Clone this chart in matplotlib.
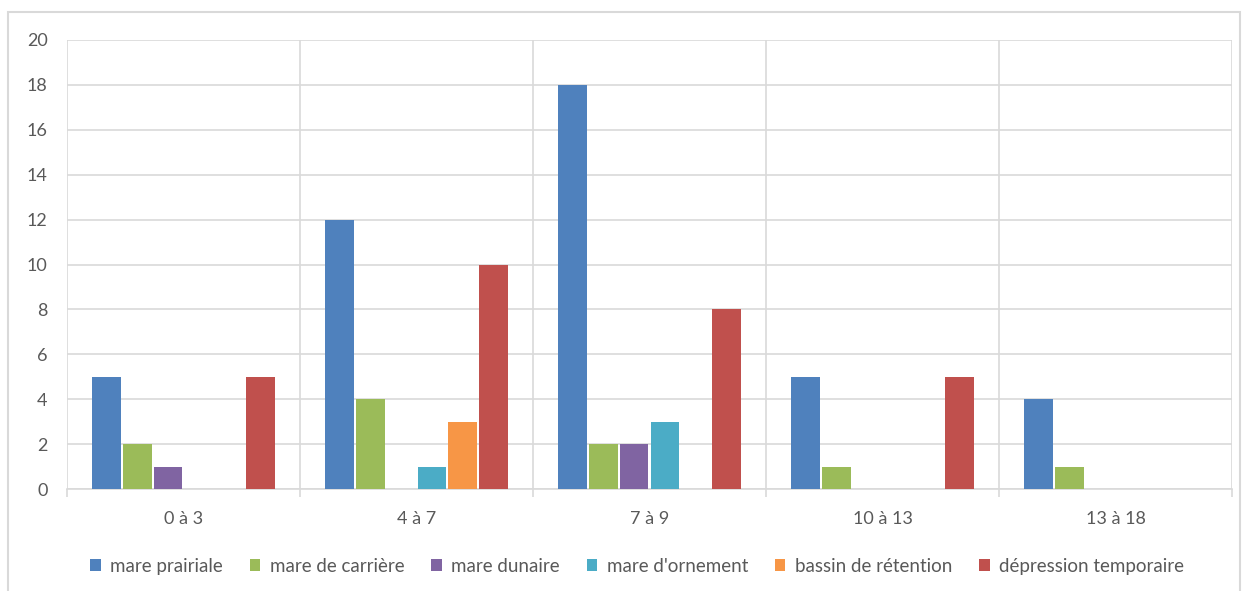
"""
Grouped bar chart: number of ponds per type, by class.
"""
import numpy as np
import matplotlib.pyplot as plt
from matplotlib.patches import Rectangle

categories = ["0 à 3", "4 à 7", "7 à 9", "10 à 13", "13 à 18"]
series_names = ["mare prairiale", "mare de carrière", "mare dunaire",
                "mare d'ornement", "bassin de rétention", "dépression temporaire"]
mare_prairiale = [5, 12, 18, 5, 4]
mare_carriere = [2, 4, 2, 1, 1]
mare_dunaire = [1, 0, 2, 0, 0]
mare_ornement = [0, 1, 3, 0, 0]
bassin_retention = [0, 3, 0, 0, 0]
depression_temporaire = [5, 10, 8, 5, 0]
y_ticks = list(range(0, 21, 2))

series = [mare_prairiale, mare_carriere, mare_dunaire,
          mare_ornement, bassin_retention, depression_temporaire]
colors = ["#4F81BD", "#9BBB59", "#8064A2", "#4BACC6", "#F79646", "#C0504D"]
text_color = "#595959"
grid_color = "#D9D9D9"

plt.rcParams["font.family"] = ["Lato", "DejaVu Sans"]

fig = plt.figure(figsize=(12.47, 5.91), dpi=100)
ax = fig.add_axes([67 / 1247, 102 / 591, 1165 / 1247, 449 / 591])

x = np.arange(len(categories))
slot = 0.132
width = 0.122
for i, (name, values, color) in enumerate(zip(series_names, series, colors)):
    offset = (i - 2.5) * slot
    ax.bar(x + offset, values, width, color=color, label=name, zorder=3)

ax.set_xlim(-0.5, len(categories) - 0.5)
ax.set_ylim(0, 20)
ax.set_yticks(y_ticks)
ax.set_xticks(x)
ax.set_xticklabels(categories)
ax.set_xticks(np.arange(-0.5, len(categories)), minor=True)

ax.grid(axis="y", color=grid_color, linewidth=1.2, zorder=0)
ax.grid(axis="x", which="minor", color=grid_color, linewidth=1.2, zorder=0)
for side in ["top", "right", "left"]:
    ax.spines[side].set_visible(False)
ax.spines["bottom"].set_color(grid_color)
ax.spines["bottom"].set_linewidth(1.2)

ax.tick_params(axis="x", which="major", length=0, pad=16, labelsize=13,
               labelcolor=text_color)
ax.tick_params(axis="x", which="minor", length=6, width=1.2, color=grid_color)
ax.tick_params(axis="y", length=0, pad=14, labelsize=13, labelcolor=text_color)

ax.legend(loc="center", bbox_to_anchor=(0.511, 0.042),
          bbox_transform=fig.transFigure, ncol=6, frameon=False,
          fontsize=13.5, labelcolor=text_color, handlelength=0.55,
          handleheight=0.55, handletextpad=0.5, columnspacing=1.45)

# light frame around the whole chart
fig.patches.append(Rectangle((8 / 1247, -0.01), 1232 / 1247, 0.99,
                             transform=fig.transFigure, fill=False,
                             edgecolor=grid_color, linewidth=1.5))

fig.savefig("out.png", dpi=100)
